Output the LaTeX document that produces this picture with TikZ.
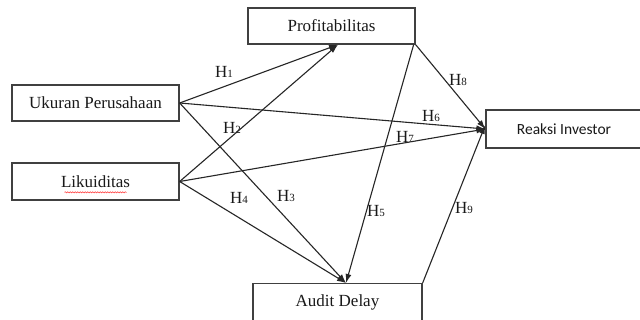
\documentclass[tikz,border=0pt]{standalone}
\usepackage{fontspec}
\setmainfont{Liberation Serif}
\newfontfamily\calib{Carlito}
\usetikzlibrary{arrows.meta,decorations.pathmorphing}
\begin{document}
\begin{tikzpicture}[x=1pt,y=-1pt,
  box/.style={draw=black!75,line width=1.3pt,rectangle,inner sep=0pt,
     font=\fontsize{17}{17}\selectfont,text=black!90},
  conn/.style={draw=black!85,line width=1.1pt,-{Latex[length=9pt,width=6pt]}},
  hlab/.style={inner sep=0pt,text=black!90}]
\useasboundingbox[fill=white] (0,0) rectangle (640,320);
\node[box,minimum width=167pt,minimum height=36pt] (prof) at (331.5,26) {Profitabilitas};
\node[box,minimum width=167pt,minimum height=36pt] (uk) at (95.5,103) {Ukuran Perusahaan};
\node[box,minimum width=167pt,minimum height=37pt] (lik) at (95.5,181.5) {Likuiditas};
\node[box,minimum width=156pt,minimum height=38pt,font=\calib\fontsize{15.5}{15.5}\selectfont] (rea) at (564,129) {Reaksi Investor};
\node[box,minimum width=169pt,minimum height=42pt,anchor=north] (aud) at (337.5,283) {};
\node[inner sep=0pt,font=\fontsize{17}{17}\selectfont,text=black!90] (audt) at (337.5,302) {Audit Delay};
\draw[red!80,line width=0.5pt,decorate,decoration={snake,amplitude=0.6pt,segment length=2.5pt}]
  ([yshift=-5pt]lik.base west -| lik.center) ++(-31,0) coordinate (sq1) -- ++(62,0) coordinate (sq2);
\coordinate (pin) at ([xshift=6.5pt]prof.south);
\coordinate (ain) at ([xshift=8.5pt]aud.north);
\draw[conn] (uk.east) -- (pin);
\draw[conn] (lik.east) -- (pin);
\draw[conn] (uk.east) -- (rea.west);
\draw[conn] (lik.east) -- (rea.west);
\draw[conn] (uk.east) -- (ain);
\draw[conn] (lik.east) -- (ain);
\draw[conn] (prof.south east) -- (rea.west);
\draw[conn] ([xshift=-2pt]prof.south east) -- (ain);
\draw[conn] (aud.north east) -- ([yshift=4pt]rea.west);
\newcommand{\hh}[1]{{\fontsize{17}{17}\selectfont H\fontsize{11}{11}\selectfont #1}}
\node[hlab] (h1) at (224,72) {\hh{1}};
\node[hlab] (h2) at (232,128) {\hh{2}};
\node[hlab] (h3) at (286,196) {\hh{3}};
\node[hlab] (h4) at (239,198) {\hh{4}};
\node[hlab] (h5) at (376,211) {\hh{5}};
\node[hlab] (h6) at (431,116) {\hh{6}};
\node[hlab] (h7) at (405,137) {\hh{7}};
\node[hlab] (h8) at (458,80) {\hh{8}};
\node[hlab] (h9) at (464,208) {\hh{9}};
\end{tikzpicture}
\end{document}
